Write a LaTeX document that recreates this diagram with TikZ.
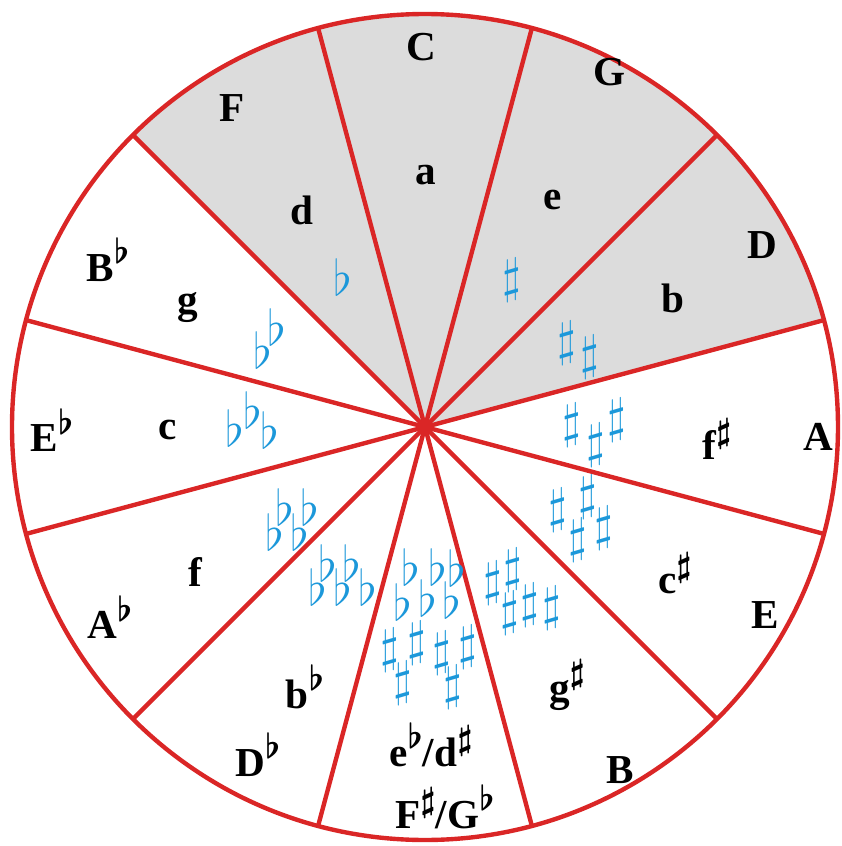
\documentclass[tikz,border=0pt]{standalone}
\usepackage{fontspec}
\setmainfont{Liberation Serif}
\definecolor{wheelred}{RGB}{218,38,38}
\definecolor{accblue}{RGB}{28,152,218}
\definecolor{majgray}{RGB}{220,220,220}
\newcommand{\flt}{\raisebox{0.43em}{\LARGE$\flat$}}
\newcommand{\shp}{\raisebox{0.42em}{\LARGE$\sharp$}}

\begin{document}
\begin{tikzpicture}[x=0.02cm, y=0.02cm,
  key/.style={font=\huge\bfseries\boldmath, scale=1.13, inner sep=0pt},
  acc/.style={text=accblue, font=\huge, scale=1.35, inner sep=0pt}]
  \useasboundingbox (-425,-419) rectangle (417,427);
  % shaded sectors F, C, G, D
  \fill[majgray] (0,0) -- (15:413) arc (15:135:413) -- cycle;
  % wheel and spokes
  \draw[wheelred, line width=2.5pt] (0,0) circle (413);
  \foreach \a in {15,45,...,345}
    \draw[wheelred, line width=2.5pt] (0,0) -- (\a:413);
  \fill[wheelred] (0,0) circle (5);
  % major keys
  \node[key] (kC)  at (-4,380)   {C};
  \node[key] (kG)  at (185,355)  {G};
  \node[key] (kD)  at (337,182)  {D};
  \node[key] (kA)  at (393,-10)  {A};
  \node[key] (kE)  at (340,-188) {E};
  \node[key] (kB)  at (195,-343) {B};
  \node[key] (kFs) at (20,-380)  {F\shp/G\flt};
  \node[key] (kDb) at (-167,-328) {D\flt};
  \node[key] (kAb) at (-315,-190) {A\flt};
  \node[key] (kEb) at (-373,-3)  {E\flt};
  \node[key] (kBb) at (-317,167) {B\flt};
  \node[key] (kF)  at (-193,319) {F};
  % minor keys
  \node[key] (ma)  at (1,252)    {a};
  \node[key] (me)  at (128,227)  {e};
  \node[key] (mb)  at (248,129)  {b};
  \node[key] (mfs) at (292,-12)  {f\shp};
  \node[key] (mcs) at (250,-146) {c\shp};
  \node[key] (mgs) at (142,-258) {g\shp};
  \node[key] (mes) at (6,-318)   {e\flt/d\shp};
  \node[key] (mbb) at (-120,-260) {b\flt};
  \node[key] (mf)  at (-230,-145) {f};
  \node[key] (mc)  at (-257,-3)  {c};
  \node[key] (mg)  at (-237,120) {g};
  \node[key] (md)  at (-123,217) {d};
  % flats
  \foreach \p in {(-82,150),
      (-162,77),(-148,100),
      (-190,-1),(-172,17),(-155,-3),
      (-150,-105),(-140,-80),(-125,-105),(-115,-80),
      (-107,-160),(-97,-136),(-82,-160),(-73,-136),(-57,-160),
      (-22,-175),(-14,-140),(3,-171),(13,-140),(27,-173),(32,-141)}
    \node[acc] at \p {$\flat$};
  % sharps
  \foreach \p in {(87,147),
      (142,84),(165,70),
      (147,2),(171,-18),(192,7),
      (133,-83),(163,-70),(153,-113),(179,-101),
      (68,-156),(88,-143),(85,-186),(105,-178),(127,-181),
      (-35,-223),(-22,-256),(-8,-216),(17,-226),(28,-260),(43,-220)}
    \node[acc] at \p {$\sharp$};
\end{tikzpicture}
\end{document}
